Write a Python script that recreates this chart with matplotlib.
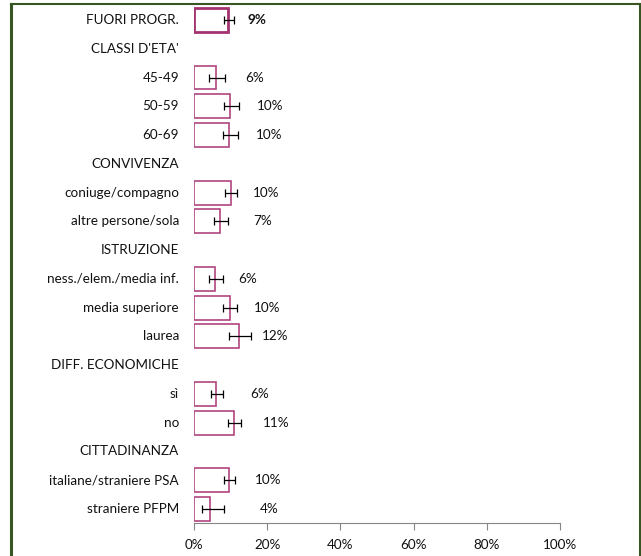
"""Horizontal bar chart with error bars, grouped categories (Excel-style)."""

import matplotlib
matplotlib.use("Agg")
import matplotlib.pyplot as plt
from matplotlib.lines import Line2D

plt.rcParams["font.family"] = ["Lato", "DejaVu Sans"]

# rows top to bottom; None value means a section header
labels = [
    "FUORI PROGR.", "CLASSI D'ETA'", "45-49", "50-59", "60-69",
    "CONVIVENZA", "coniuge/compagno", "altre persone/sola",
    "ISTRUZIONE", "ness./elem./media inf.", "media superiore", "laurea",
    "DIFF. ECONOMICHE", "sì", "no",
    "CITTADINANZA", "italiane/straniere PSA", "straniere PFPM",
]
values = [9.3, None, 6.0, 9.8, 9.6, None, 10.0, 7.2, None, 5.8, 9.7, 12.4,
          None, 6.0, 10.9, None, 9.6, 4.4]
ci_low = [8.1, None, 4.1, 8.2, 7.9, None, 8.6, 5.4, None, 4.2, 8.0, 9.6,
          None, 4.6, 9.3, None, 8.2, 2.3]
ci_high = [10.8, None, 8.5, 12.3, 12.0, None, 11.7, 9.3, None, 8.0, 11.7, 15.7,
           None, 8.0, 12.8, None, 11.1, 8.3]
value_text = ["9%", None, "6%", "10%", "10%", None, "10%", "7%", None, "6%",
              "10%", "12%", None, "6%", "11%", None, "10%", "4%"]
x_ticks = [0, 20, 40, 60, 80, 100]

# where Excel left the data labels (x, in %)
label_x = [14.5, None, 14.0, 17.3, 17.0, None, 16.1, 16.2, None, 12.2,
           16.4, 18.5, None, 15.3, 18.8, None, 16.7, 18.1]

BAR_EDGE = "#B0457F"
FRAME = "#375623"
FS = 9.7

fig = plt.figure(figsize=(6.41, 5.56), dpi=100)
ax = fig.add_axes([194 / 641, 1 - 523.4 / 556, 366 / 641, 517.8 / 556])

n = len(labels)
for i, (lab, v) in enumerate(zip(labels, values)):
    y = i
    if v is not None:
        bold = i == 0
        ax.barh(y, v, height=0.83, color="white", edgecolor="#A33370" if bold else BAR_EDGE,
                linewidth=2.0 if bold else 1.2, zorder=2)
        ax.errorbar(v, y, xerr=[[v - ci_low[i]], [ci_high[i] - v]], fmt="none",
                    ecolor="black", elinewidth=0.9, capsize=3, capthick=0.9, zorder=3)
        ax.text(label_x[i], y, value_text[i], va="center", ha="left", fontsize=FS,
                fontweight="bold" if bold else "normal", color="#111111")
    ax.text(-4.1, y, lab, va="center", ha="right", fontsize=FS, color="#111111",
            transform=ax.transData, clip_on=False)

ax.set_xlim(0, 100)
ax.set_ylim(n - 0.5, -0.5)
ax.set_yticks([])
ax.set_xticks(x_ticks)
ax.set_xticklabels([f"{t}%" for t in x_ticks], fontsize=FS, color="#111111")
ax.tick_params(axis="x", direction="out", length=5, color="#868686", pad=6)
for side in ("left", "right", "top"):
    ax.spines[side].set_visible(False)
ax.spines["bottom"].set_color("#868686")
ax.patch.set_visible(False)

# dark green frame, open at the bottom
w, h = 641, 556
fig.add_artist(Line2D([10.5 / w, 10.5 / w], [0, 1 - 3.5 / h], color=FRAME, lw=2.2,
                      transform=fig.transFigure))
fig.add_artist(Line2D([10.5 / w, 639.5 / w], [1 - 3.5 / h, 1 - 3.5 / h], color=FRAME,
                      lw=1.5, transform=fig.transFigure))
fig.add_artist(Line2D([639.5 / w, 639.5 / w], [0, 1 - 3.5 / h], color=FRAME, lw=2.2,
                      transform=fig.transFigure))

fig.savefig("out.png", dpi=100)
